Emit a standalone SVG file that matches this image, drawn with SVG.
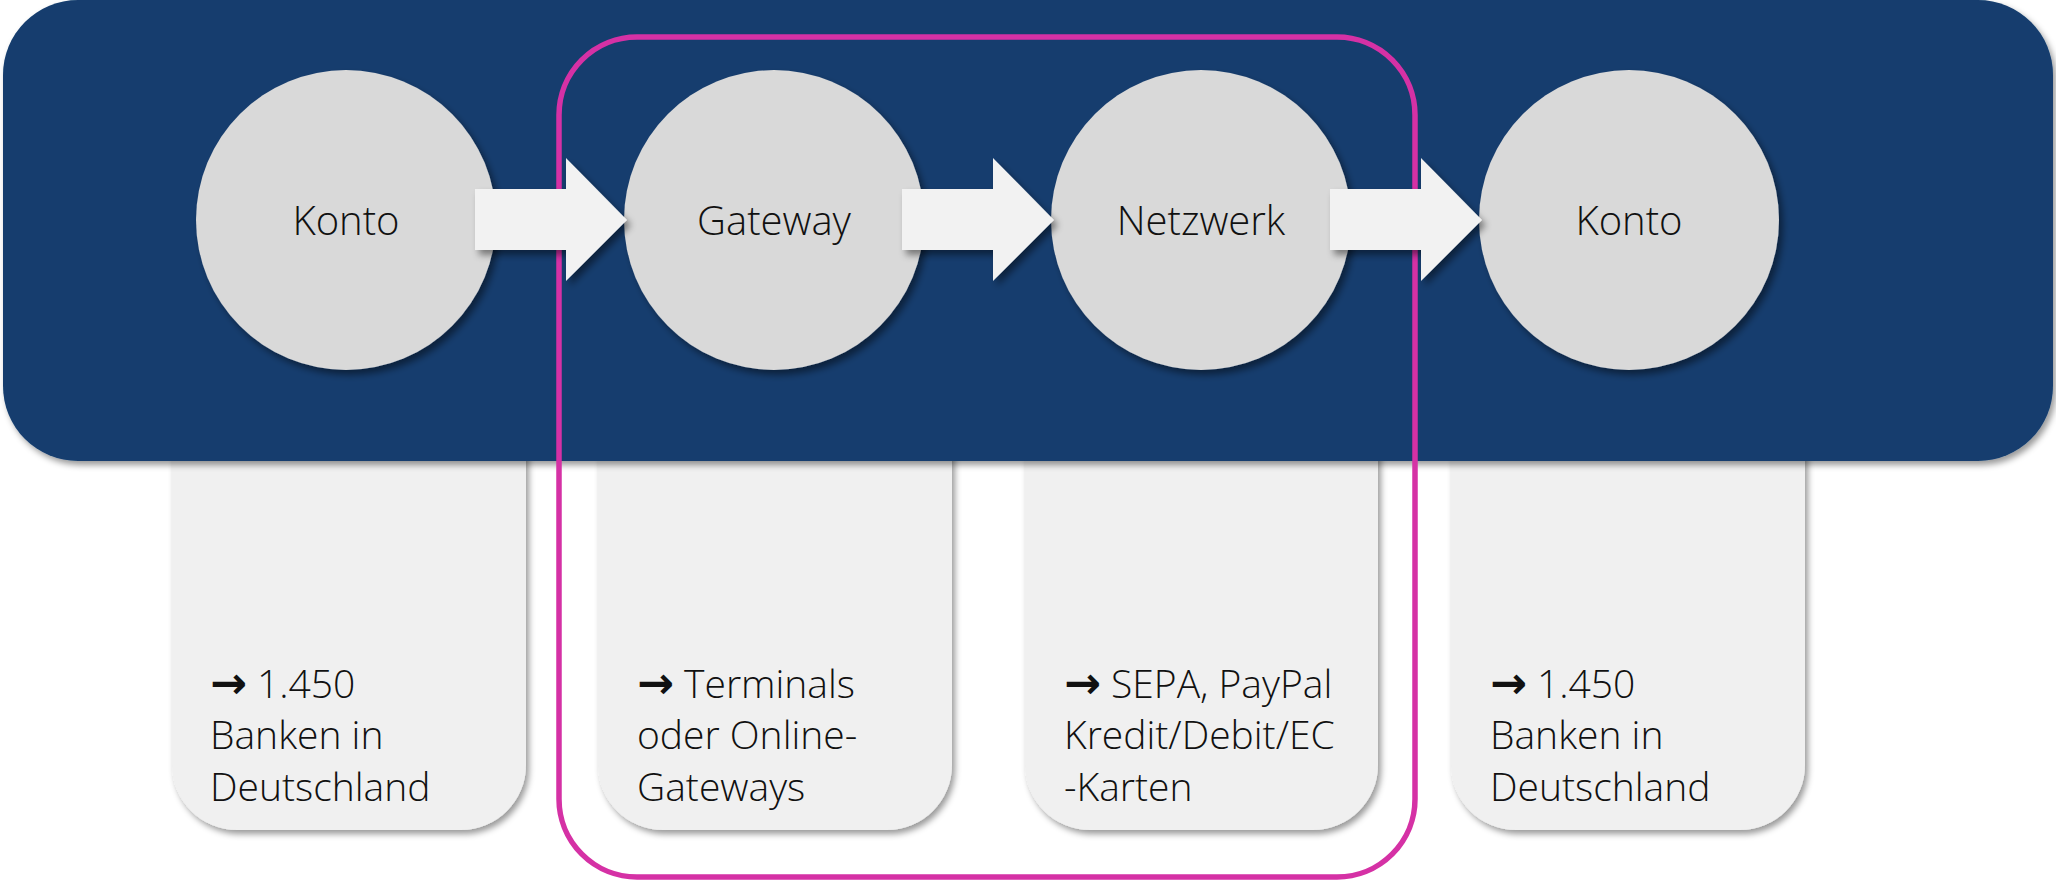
<svg xmlns="http://www.w3.org/2000/svg" width="2056" height="883" viewBox="0 0 2056 883">
<defs>
<filter id="sh" x="-20%" y="-20%" width="140%" height="140%">
<feDropShadow dx="4" dy="5" stdDeviation="3.5" flood-color="#000" flood-opacity="0.45"/>
</filter>
<filter id="shs" x="-10%" y="-10%" width="130%" height="130%">
<feDropShadow dx="3" dy="4" stdDeviation="3" flood-color="#000" flood-opacity="0.4"/>
</filter>
<path id="arw" d="M0,189 H91 V158 L152,220 L91,281 V250 H0 Z"/>
</defs>
<style>
.card{fill:#F0F0F0;filter:url(#shs)}
.circ{fill:#D9D9D9;filter:url(#sh)}
.arrow{fill:#F2F2F2;filter:url(#sh)}
.lbl{font-family:"Open Sans","Segoe UI",sans-serif;font-weight:300;font-size:40px;fill:#111}
.ct{font-family:"Open Sans","Segoe UI",sans-serif;font-weight:300;font-size:39px;fill:#111}
.ar{font-family:"DejaVu Sans",sans-serif;font-weight:bold;font-size:44px}
</style>
<rect width="2056" height="883" fill="#FFFFFF"/>

<g id="card1"><path class="card" d="M172,400 H526 V765 A65,65 0 0 1 461,830 H237 A65,65 0 0 1 172,765 Z"/>
<text class="ct" x="210"><tspan x="210" y="698"><tspan class="ar">→</tspan> 1.450</tspan><tspan x="210" y="749">Banken in</tspan><tspan x="210" y="801">Deutschland</tspan></text></g>
<g id="card2"><path class="card" d="M598,400 H952 V765 A65,65 0 0 1 887,830 H663 A65,65 0 0 1 598,765 Z"/>
<text class="ct" x="637"><tspan x="637" y="698"><tspan class="ar">→</tspan> Terminals</tspan><tspan x="637" y="749">oder Online-</tspan><tspan x="637" y="801">Gateways</tspan></text></g>
<g id="card3"><path class="card" d="M1025,400 H1378 V765 A65,65 0 0 1 1313,830 H1090 A65,65 0 0 1 1025,765 Z"/>
<text class="ct" x="1064"><tspan x="1064" y="698"><tspan class="ar">→</tspan> SEPA, PayPal</tspan><tspan x="1064" y="749">Kredit/Debit/EC</tspan><tspan x="1064" y="801">-Karten</tspan></text></g>
<g id="card4"><path class="card" d="M1451,400 H1805 V765 A65,65 0 0 1 1740,830 H1516 A65,65 0 0 1 1451,765 Z"/>
<text class="ct" x="1490"><tspan x="1490" y="698"><tspan class="ar">→</tspan> 1.450</tspan><tspan x="1490" y="749">Banken in</tspan><tspan x="1490" y="801">Deutschland</tspan></text></g>

<g id="band"><rect x="3" y="0" width="2050" height="461" rx="75" ry="75" fill="#143E6E" filter="url(#shs)"/></g>

<g id="highlight"><rect x="559" y="37" width="856" height="840" rx="78" ry="78" fill="none" stroke="#D531A5" stroke-width="5.5"/></g>

<g id="n-konto1"><circle class="circ" cx="346" cy="220" r="150"/><text class="lbl" x="346" y="235" text-anchor="middle">Konto</text></g>
<g id="n-gateway"><circle class="circ" cx="774" cy="220" r="150"/><text class="lbl" x="774" y="235" text-anchor="middle">Gateway</text></g>
<g id="n-netzwerk"><circle class="circ" cx="1201" cy="220" r="150"/><text class="lbl" x="1201" y="235" text-anchor="middle">Netzwerk</text></g>
<g id="n-konto2"><circle class="circ" cx="1629" cy="220" r="150"/><text class="lbl" x="1629" y="235" text-anchor="middle">Konto</text></g>

<g id="connectors">
<use href="#arw" class="arrow" x="475"/>
<use href="#arw" class="arrow" x="902"/>
<use href="#arw" class="arrow" x="1330"/>
</g>
</svg>
